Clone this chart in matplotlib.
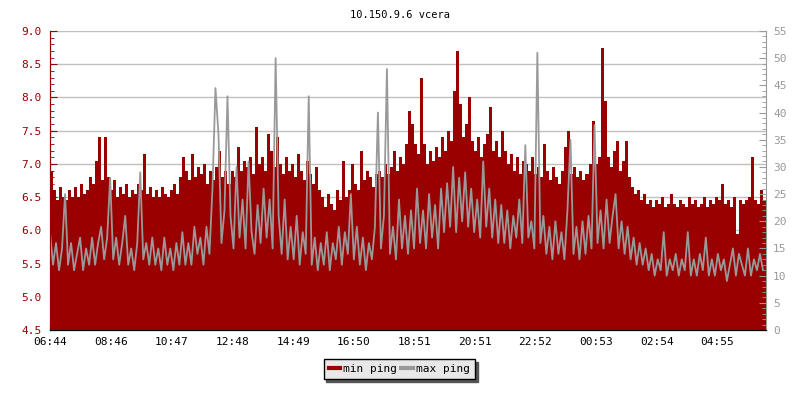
import numpy as np
import pandas as pd
import matplotlib
matplotlib.use("Agg")
import matplotlib.pyplot as plt
from matplotlib.ticker import MultipleLocator, FormatStrFormatter
from matplotlib.lines import Line2D

title = "10.150.9.6 vcera"
start_time = "2024-01-01 06:44"
step_min = 6

# min ping (ms), left axis
min_ping = [
    6.9, 6.6, 6.45, 6.65, 6.5, 6.45, 6.6, 6.5, 6.65, 6.5,
    6.7, 6.55, 6.6, 6.8, 6.7, 7.05, 7.4, 6.75, 7.4, 6.8,
    6.6, 6.75, 6.5, 6.65, 6.55, 6.7, 6.5, 6.6, 6.55, 6.7,
    6.6, 7.15, 6.55, 6.65, 6.5, 6.6, 6.5, 6.65, 6.55, 6.5,
    6.6, 6.7, 6.55, 6.8, 7.1, 6.9, 6.75, 7.15, 6.8, 6.95,
    6.85, 7.0, 6.7, 6.9, 6.75, 6.95, 7.2, 6.8, 6.9, 6.7,
    6.9, 6.8, 7.25, 6.9, 7.05, 6.95, 7.1, 6.85, 7.55, 7.0,
    7.1, 6.9, 7.45, 7.2, 6.95, 7.4, 7.0, 6.85, 7.1, 6.9,
    7.0, 6.8, 7.15, 6.9, 6.75, 7.05, 6.85, 6.7, 6.95, 6.6,
    6.5, 6.35, 6.55, 6.4, 6.3, 6.6, 6.45, 7.05, 6.5, 6.6,
    7.0, 6.7, 6.6, 7.2, 6.75, 6.9, 6.8, 6.65, 6.85, 6.9,
    6.8, 7.0, 6.85, 6.95, 7.2, 6.9, 7.1, 7.0, 7.3, 7.8,
    7.6, 7.3, 7.15, 8.3, 7.3, 7.0, 7.2, 7.05, 7.25, 7.1,
    7.4, 7.2, 7.5, 7.35, 8.1, 8.7, 7.9, 7.4, 7.6, 8.0,
    7.35, 7.2, 7.4, 7.1, 7.3, 7.45, 7.85, 7.2, 7.35, 7.1,
    7.5, 7.2, 7.0, 7.15, 6.9, 7.1, 6.85, 7.05, 7.0, 6.9,
    7.1, 6.85, 6.95, 6.8, 7.3, 6.9, 6.75, 6.95, 6.8, 6.7,
    6.9, 7.25, 7.5, 6.85, 6.95, 6.8, 6.9, 6.75, 6.85, 7.0,
    7.65, 7.0, 7.1, 8.75, 7.95, 7.1, 6.95, 7.2, 7.35, 6.9,
    7.05, 7.35, 6.8, 6.65, 6.55, 6.6, 6.45, 6.55, 6.4, 6.45,
    6.35, 6.45, 6.4, 6.5, 6.35, 6.4, 6.55, 6.4, 6.35, 6.45,
    6.4, 6.35, 6.5, 6.4, 6.45, 6.35, 6.4, 6.5, 6.35, 6.45,
    6.4, 6.5, 6.45, 6.7, 6.4, 6.45, 6.35, 6.5, 5.95, 6.45,
    6.4, 6.45, 6.5, 7.1, 6.45, 6.4, 6.6, 6.45,
]

# max ping (ms), right axis
max_ping = [
    18, 12, 16, 11, 15, 25, 12, 16, 11, 14,
    17, 11, 15, 12, 17, 12, 16, 19, 13, 17,
    28, 13, 17, 12, 16, 21, 12, 15, 11, 16,
    29, 13, 16, 12, 17, 12, 15, 11, 17, 12,
    15, 11, 16, 12, 18, 12, 16, 12, 19, 14,
    17, 12, 19, 14, 26, 44.5, 36, 16, 22, 43,
    21, 15, 30, 17, 24, 15, 31, 18, 14, 23,
    16, 26, 17, 24, 15, 50, 21, 14, 24, 13,
    19, 13, 21, 12, 18, 14, 43, 12, 17, 11,
    16, 12, 18, 11, 16, 13, 19, 12, 18, 14,
    25, 13, 19, 12, 17, 11, 16, 13, 19, 40,
    15, 21, 48, 14, 19, 13, 24, 15, 21, 14,
    22, 15, 26, 16, 22, 15, 25, 17, 23, 15,
    26, 18, 27, 19, 30, 18, 28, 20, 29, 19,
    26, 18, 24, 17, 31, 19, 26, 17, 24, 16,
    23, 16, 22, 15, 21, 17, 24, 16, 34, 17,
    20, 15, 51, 16, 21, 14, 19, 13, 20, 14,
    18, 13, 22, 35, 14, 19, 13, 20, 14, 21,
    15, 37.7, 16, 22, 15, 24, 16, 21, 25, 15,
    20, 14, 19, 13, 17, 12, 16, 12, 15, 11,
    14, 10, 13, 11, 18, 10, 13, 11, 14, 10,
    13, 11, 18, 10, 13, 10, 14, 11, 17, 10,
    13, 10, 14, 11, 13, 9, 12, 15, 10, 14,
    12, 10, 15, 10, 13, 11, 14, 11,
]

tick_labels = ["06:44", "08:46", "10:47", "12:48", "14:49", "16:50",
               "18:51", "20:51", "22:52", "00:53", "02:54", "04:55"]

red = "#990000"
grey = "#999999"
plt.rcParams["font.family"] = ["DejaVu Sans Mono"]
plt.rcParams["font.size"] = 7.5

start = pd.Timestamp(start_time)
n = len(min_ping)
times = [(start + pd.Timedelta(minutes=step_min * i)).to_pydatetime() for i in range(n)]
end = (start + pd.Timedelta(minutes=step_min * n)).to_pydatetime()
# last sample held until the end of the range
t_edges = times + [end]
min_edges = min_ping + [min_ping[-1]]

# tick datetimes from labels (roll over midnight)
tick_times = []
day = start.normalize()
prev = None
for lab in tick_labels:
    t = day + pd.Timedelta(lab + ":00")
    if prev is not None and t < prev:
        day = day + pd.Timedelta(days=1)
        t = day + pd.Timedelta(lab + ":00")
    tick_times.append(t.to_pydatetime())
    prev = t

fig = plt.figure(figsize=(8, 4), dpi=100)
ax = fig.add_axes([0.0625, 0.175, 0.895, 0.7475])
ax2 = ax.twinx()

ax.set_axisbelow(True)
ax.grid(axis="y", color="#c0c0c0", lw=1)
ax.fill_between(t_edges, min_edges, 4.5, step="post", color=red, lw=0)
ax2.plot(times, max_ping, color=grey, lw=1.3)

ax.set_ylim(4.5, 9.0)
ax2.set_ylim(0, 55)
ax.set_xlim(times[0], end)

ax.yaxis.set_major_locator(MultipleLocator(0.5))
ax.yaxis.set_minor_locator(MultipleLocator(0.1))
ax.yaxis.set_major_formatter(FormatStrFormatter("%.1f"))
ax2.yaxis.set_major_locator(MultipleLocator(5))
ax2.yaxis.set_minor_locator(MultipleLocator(1))

ax.set_xticks(tick_times)
ax.set_xticklabels(tick_labels)

ax.tick_params(axis="y", which="major", direction="in", length=5, colors=red, labelsize=8, pad=6)
ax.tick_params(axis="y", which="minor", direction="in", length=3, color=red)
ax.tick_params(axis="x", direction="in", length=5, labelsize=8, pad=5)
ax2.tick_params(axis="y", which="major", direction="in", length=5, colors=grey, labelsize=8, pad=5)
ax2.tick_params(axis="y", which="minor", direction="in", length=3, color=grey)

for a in (ax, ax2):
    a.spines["top"].set_visible(False)
ax.spines["left"].set_color(red)
ax2.spines["left"].set_color(red)
ax2.spines["right"].set_color(grey)
ax.spines["right"].set_visible(False)
ax.spines["bottom"].set_color("black")

fig.suptitle(title, y=0.975, fontsize=7.5)

handles = [Line2D([], [], color=red, lw=3), Line2D([], [], color=grey, lw=3)]
leg = fig.legend(handles, ["min ping", "max ping"], loc="center",
                 bbox_to_anchor=(0.499, 0.0775), ncol=2, frameon=True,
                 fancybox=False, edgecolor="black", facecolor="#e8e8e8",
                 framealpha=1, handlelength=1.0, handletextpad=0.3,
                 columnspacing=0.4, borderpad=0.45, fontsize=8,
                 shadow={"color": "#555555", "alpha": 1.0})

fig.savefig("out.png", dpi=100)
